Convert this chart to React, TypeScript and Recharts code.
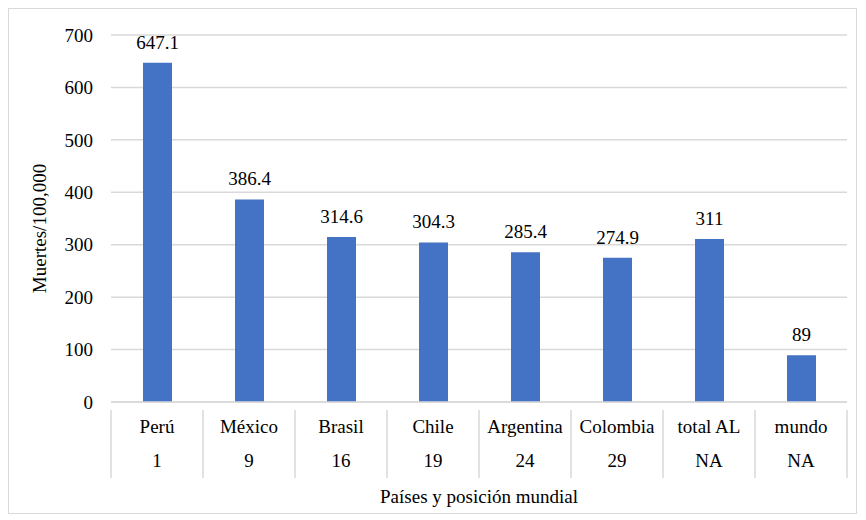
import { Bar, BarChart, CartesianGrid, LabelList, XAxis, YAxis } from "recharts";

const countries = ["Perú", "México", "Brasil", "Chile", "Argentina", "Colombia", "total AL", "mundo"];
const ranks = ["1", "9", "16", "19", "24", "29", "NA", "NA"];
const deaths = [647.1, 386.4, 314.6, 304.3, 285.4, 274.9, 311, 89];
const yTicks = [0, 100, 200, 300, 400, 500, 600, 700];

const data = countries.map((name, i) => ({ name, rank: ranks[i], value: deaths[i] }));

const CHART_W = 847;
const CHART_H = 504;
const MARGIN = { top: 26, right: 9, left: 42, bottom: 41 };
const Y_AXIS_W = 60;
const FONT = "Liberation Serif, Times New Roman, serif";
const GRID = "#d9d9d9";
const txt = { fontSize: 19, fontFamily: FONT, fill: "#000" };

const bandWidth = (CHART_W - MARGIN.left - MARGIN.right - Y_AXIS_W) / countries.length;

function CategoryTick(props: any) {
  const { x, y, payload, index } = props;
  const left = x - bandWidth / 2;
  const right = x + bandWidth / 2;
  return (
    <g>
      <line x1={left} y1={y} x2={left} y2={y + 68} stroke={GRID} strokeWidth={1.5} />
      {index === countries.length - 1 && (
        <line x1={right} y1={y} x2={right} y2={y + 68} stroke={GRID} strokeWidth={1.5} />
      )}
      <text x={x} y={y + 23} textAnchor="middle" style={txt}>
        {payload.value}
      </text>
      <text x={x} y={y + 57} textAnchor="middle" style={txt}>
        {ranks[index]}
      </text>
    </g>
  );
}

export default function App() {
  return (
    <div
      style={{
        width: CHART_W,
        height: CHART_H,
        border: `1.5px solid ${GRID}`,
        background: "#fff",
        fontFamily: FONT,
      }}
    >
      <BarChart width={CHART_W} height={CHART_H} data={data} margin={MARGIN} barSize={29}>
        <CartesianGrid vertical={false} stroke={GRID} strokeWidth={1.5} />
        <XAxis
          dataKey="name"
          height={70}
          interval={0}
          axisLine={{ stroke: GRID, strokeWidth: 1.5 }}
          tickLine={false}
          tick={<CategoryTick />}
          label={{
            value: "Países y posición mundial",
            position: "insideBottom",
            offset: -31,
            style: txt,
          }}
        />
        <YAxis
          width={Y_AXIS_W}
          domain={[0, 700]}
          ticks={yTicks}
          axisLine={false}
          tickLine={false}
          tickMargin={12}
          tick={{ style: txt }}
          label={{
            value: "Muertes/100,000",
            angle: -90,
            position: "insideLeft",
            offset: -12,
            dy: 10,
            style: { ...txt, textAnchor: "middle" },
          }}
        />
        <Bar dataKey="value" fill="#4472C4" isAnimationActive={false}>
          <LabelList dataKey="value" position="top" offset={14} style={txt} />
        </Bar>
      </BarChart>
    </div>
  );
}
